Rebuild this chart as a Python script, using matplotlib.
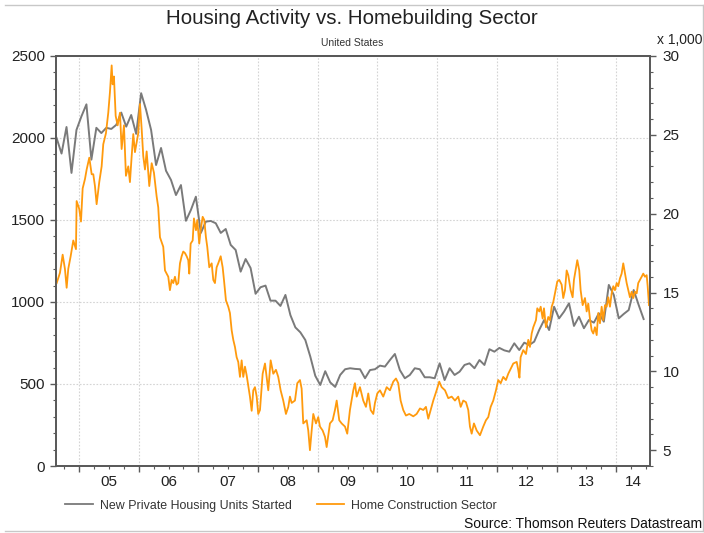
"""
Housing starts vs. home construction sector index
"""

import matplotlib
matplotlib.use("Agg")
import matplotlib.pyplot as plt
from matplotlib.lines import Line2D
from matplotlib.ticker import FixedLocator, MultipleLocator, NullFormatter
import numpy as np

plt.rcParams['font.family'] = ['Liberation Sans', 'DejaVu Sans']

# New private housing units started (thousands, monthly, Aug 2004 - Jun 2014)
starts_first_year = 2004
starts_first_month = 8
starts = [
    2000, 1905, 2067, 1787, 2049,                                          # 2004
    2132, 2205, 1868, 2062, 2030, 2062, 2055, 2080, 2155, 2069, 2140, 2025,  # 2005
    2273, 2171, 2049, 1835, 1939, 1800, 1744, 1652, 1713, 1495, 1561, 1642,  # 2006
    1421, 1490, 1494, 1480, 1421, 1445, 1348, 1317, 1185, 1262, 1207, 1050,  # 2007
    1090, 1100, 1008, 1008, 976, 1043, 920, 845, 815, 768, 667, 550,         # 2008
    494, 578, 510, 482, 555, 590, 596, 592, 590, 535, 585, 590,              # 2009
    612, 606, 646, 683, 585, 535, 555, 596, 590, 541, 541, 535,              # 2010
    626, 524, 596, 555, 575, 616, 626, 596, 646, 616, 712, 697,              # 2011
    720, 705, 697, 748, 707, 752, 738, 758, 829, 890, 829, 971,              # 2012
    900, 941, 992, 854, 910, 840, 890, 874, 931, 880, 1104, 1043,            # 2013
    900, 927, 951, 1073, 982, 896,                                           # 2014
]

# Home construction sector index (x 1,000), decimal year / level
sector_t = [
    2004.627, 2004.682, 2004.727, 2004.765, 2004.794, 2004.821, 2004.861, 2004.905,
    2004.950, 2004.961, 2005.005, 2005.034, 2005.062, 2005.101, 2005.129, 2005.173,
    2005.213, 2005.240, 2005.268, 2005.296, 2005.340, 2005.380, 2005.407, 2005.452,
    2005.491, 2005.519, 2005.548, 2005.564, 2005.586, 2005.615, 2005.648, 2005.687,
    2005.715, 2005.754, 2005.787, 2005.826, 2005.854, 2005.883, 2005.910, 2005.938,
    2005.966, 2005.993, 2006.022, 2006.050, 2006.077, 2006.106, 2006.134, 2006.178,
    2006.218, 2006.256, 2006.301, 2006.328, 2006.357, 2006.412, 2006.441, 2006.469,
    2006.496, 2006.524, 2006.553, 2006.580, 2006.608, 2006.636, 2006.663, 2006.692,
    2006.720, 2006.747, 2006.776, 2006.804, 2006.831, 2006.848, 2006.871, 2006.905,
    2006.926, 2006.960, 2006.982, 2007.015, 2007.038, 2007.072, 2007.099, 2007.127,
    2007.149, 2007.183, 2007.223, 2007.250, 2007.278, 2007.306, 2007.333, 2007.374,
    2007.407, 2007.429, 2007.462, 2007.501, 2007.529, 2007.558, 2007.585, 2007.613,
    2007.641, 2007.668, 2007.697, 2007.725, 2007.752, 2007.781, 2007.809, 2007.836,
    2007.864, 2007.893, 2007.920, 2007.948, 2007.977, 2008.003, 2008.032, 2008.077,
    2008.116, 2008.171, 2008.211, 2008.255, 2008.300, 2008.338, 2008.378, 2008.422,
    2008.467, 2008.506, 2008.534, 2008.563, 2008.618, 2008.657, 2008.702, 2008.730,
    2008.757, 2008.814, 2008.841, 2008.869, 2008.898, 2008.925, 2008.970, 2009.008,
    2009.037, 2009.082, 2009.121, 2009.149, 2009.204, 2009.249, 2009.288, 2009.317,
    2009.360, 2009.400, 2009.456, 2009.494, 2009.539, 2009.595, 2009.623, 2009.652,
    2009.707, 2009.762, 2009.807, 2009.846, 2009.886, 2009.930, 2009.958, 2009.997,
    2010.042, 2010.097, 2010.154, 2010.209, 2010.265, 2010.310, 2010.348, 2010.388,
    2010.432, 2010.477, 2010.533, 2010.600, 2010.656, 2010.712, 2010.767, 2010.812,
    2010.851, 2010.891, 2010.935, 2010.991, 2011.035, 2011.075, 2011.131, 2011.186,
    2011.243, 2011.298, 2011.353, 2011.394, 2011.437, 2011.482, 2011.521, 2011.549,
    2011.578, 2011.616, 2011.662, 2011.717, 2011.772, 2011.817, 2011.856, 2011.896,
    2011.940, 2011.985, 2012.023, 2012.064, 2012.107, 2012.152, 2012.191, 2012.236,
    2012.275, 2012.332, 2012.358, 2012.378, 2012.398, 2012.442, 2012.487, 2012.526,
    2012.554, 2012.583, 2012.610, 2012.655, 2012.677, 2012.710, 2012.734, 2012.767,
    2012.789, 2012.822, 2012.861, 2012.889, 2012.918, 2012.945, 2012.973, 2013.012,
    2013.045, 2013.085, 2013.112, 2013.141, 2013.169, 2013.196, 2013.236, 2013.269,
    2013.291, 2013.325, 2013.347, 2013.380, 2013.403, 2013.437, 2013.476, 2013.504,
    2013.531, 2013.559, 2013.588, 2013.615, 2013.643, 2013.672, 2013.698, 2013.727,
    2013.755, 2013.782, 2013.811, 2013.839, 2013.866, 2013.894, 2013.923, 2013.950,
    2013.978, 2014.007, 2014.033, 2014.062, 2014.090, 2014.117, 2014.146, 2014.174,
    2014.201, 2014.229, 2014.258, 2014.285, 2014.313, 2014.342, 2014.368, 2014.397,
    2014.425, 2014.452, 2014.481, 2014.509, 2014.526, 2014.548,
]
sector_v = [
    15.6, 16.25, 17.4, 16.5, 15.3, 16.5, 17.3, 18.3,
    17.75, 20.8, 20.3, 19.5, 21.6, 22.2, 22.8, 23.55,
    22.5, 22.5, 21.75, 20.6, 22.0, 23.0, 24.4, 25.1,
    26.4, 27.7, 29.4, 28.2, 28.7, 26.2, 25.6, 26.4,
    24.1, 25.6, 22.4, 23.0, 22.0, 23.65, 25.05, 23.9,
    24.5, 25.1, 26.95, 25.4, 23.65, 22.8, 23.95, 21.75,
    23.2, 22.6, 21.1, 20.4, 18.5, 17.9, 16.4, 16.2,
    16.0, 15.15, 15.8, 15.6, 16.0, 15.5, 15.6, 16.85,
    17.3, 17.6, 17.5, 17.3, 17.05, 16.2, 18.1, 18.3,
    19.7, 18.95, 19.6, 18.1, 18.95, 19.8, 19.6, 18.5,
    17.9, 16.6, 16.85, 15.8, 15.6, 16.6, 16.85, 17.3,
    16.6, 15.8, 14.5, 14.1, 13.7, 12.6, 12.0, 11.55,
    10.9, 10.6, 9.65, 10.7, 9.65, 10.3, 9.75, 9.1,
    8.4, 7.5, 8.8, 9.0, 8.4, 7.3, 7.55, 9.85,
    10.5, 8.8, 10.7, 9.85, 10.1, 9.65, 8.8, 8.15,
    7.3, 7.75, 8.4, 8.0, 8.15, 9.25, 9.45, 8.9,
    6.7, 6.9, 6.25, 5.0, 6.25, 7.3, 6.7, 7.1,
    6.5, 6.25, 5.85, 5.2, 6.7, 6.9, 7.55, 8.15,
    6.9, 6.7, 6.5, 6.05, 7.55, 8.8, 9.25, 8.4,
    9.0, 8.15, 7.75, 8.6, 7.55, 7.3, 8.0, 8.6,
    8.8, 8.4, 9.0, 8.8, 9.35, 9.55, 9.25, 8.15,
    7.55, 7.2, 7.3, 7.15, 7.3, 7.65, 7.55, 7.75,
    7.0, 7.55, 8.15, 8.8, 9.35, 9.0, 8.8, 8.3,
    8.4, 8.15, 8.4, 7.75, 8.15, 8.05, 7.55, 6.5,
    6.05, 6.7, 6.25, 5.95, 6.5, 6.9, 7.1, 7.75,
    8.15, 8.8, 9.45, 9.25, 9.65, 9.45, 9.85, 10.2,
    10.5, 10.6, 10.1, 9.6, 10.9, 11.35, 11.1, 12.0,
    11.55, 12.4, 12.8, 13.25, 14.0, 13.8, 14.1, 13.35,
    14.0, 12.8, 13.45, 13.25, 14.1, 14.4, 14.95, 15.7,
    15.8, 15.5, 14.65, 15.15, 16.4, 16.1, 15.15, 14.7,
    15.8, 16.55, 17.05, 16.4, 15.15, 14.2, 14.65, 13.8,
    14.3, 13.35, 12.6, 12.4, 12.8, 12.3, 13.7, 13.05,
    14.1, 13.25, 14.2, 14.1, 14.7, 14.1, 14.95, 15.4,
    15.15, 15.6, 15.4, 15.9, 16.2, 16.85, 16.2, 15.6,
    15.15, 14.7, 15.05, 14.65, 15.05, 14.95, 15.6, 15.8,
    16.0, 16.2, 16.0, 16.1, 15.4, 14.2,
]

year_labels = ['05', '06', '07', '08', '09', '10', '11', '12', '13', '14']
first_label_year = 2005
x_min, x_max = 2004.615, 2014.565

GRAY = '#7a7a7a'
ORANGE = '#ff9a0d'
SPINE = '#5a5a5a'
TXT = '#222222'

starts_t = starts_first_year + (starts_first_month - 1 + np.arange(len(starts)) + 0.5) / 12

fig = plt.figure(figsize=(7.04, 5.33), dpi=100)
ax = fig.add_axes([0.0795, 0.1257, 0.8438, 0.7693])
ax2 = ax.twinx()

ax.plot(starts_t, starts, color=GRAY, lw=1.4)
ax2.plot(sector_t, sector_v, color=ORANGE, lw=1.3)

ax.set_xlim(x_min, x_max)
ax.set_ylim(0, 2500)
ax2.set_ylim(4, 30)

ax.yaxis.set_major_locator(MultipleLocator(500))
ax.yaxis.set_minor_locator(MultipleLocator(100))
ax2.yaxis.set_major_locator(FixedLocator([5, 10, 15, 20, 25, 30]))
ax2.yaxis.set_minor_locator(MultipleLocator(1))

ax.xaxis.set_major_locator(MultipleLocator(1))
ax.xaxis.set_major_formatter(NullFormatter())
ax.xaxis.set_minor_locator(MultipleLocator(0.25))

# year labels centred in each (visible part of the) year
for i, lab in enumerate(year_labels):
    y0 = first_label_year + i
    xc = (max(y0, x_min) + min(y0 + 1, x_max)) / 2
    ax.text(xc, -0.022, lab, transform=ax.get_xaxis_transform(), ha='center', va='top',
            fontsize=11, color=TXT)

ax.grid(True, which='major', color='#d4d4d4', lw=0.8, ls=(0, (1.5, 1.5)))

for a in (ax, ax2):
    for s in a.spines.values():
        s.set_color(SPINE)
        s.set_linewidth(1.3)
ax.spines['top'].set_color('#444444')

ax.tick_params(axis='y', which='major', length=4, width=1, color=SPINE,
               labelsize=11, pad=4, labelcolor=TXT)
ax.tick_params(axis='y', which='minor', length=2, width=0.8, color=SPINE)
ax2.tick_params(axis='y', which='major', length=4, width=1, color=SPINE,
                labelsize=11, pad=5, labelcolor=TXT)
ax2.tick_params(axis='y', which='minor', length=2, width=0.8, color=SPINE)
ax.tick_params(axis='x', which='major', length=4, width=1, color=SPINE)
ax.tick_params(axis='x', which='minor', length=2, width=0.8, color=SPINE)

fig.text(0.5, 0.966, 'Housing Activity vs. Homebuilding Sector', ha='center', va='center',
         fontsize=14.8, color=TXT)
fig.text(0.5, 0.919, 'United States', ha='center', va='center', fontsize=7.5, color='#333333')
fig.text(0.998, 0.925, 'x 1,000', ha='right', va='center', fontsize=10, color=TXT)

h1 = Line2D([], [], color=GRAY, lw=1.3)
h2 = Line2D([], [], color=ORANGE, lw=1.3)
fig.legend([h1, h2], ['New Private Housing Units Started', 'Home Construction Sector'],
           loc='center left', bbox_to_anchor=(0.077, 0.051), ncol=2, frameon=False,
           fontsize=8.9, handlelength=2.2, columnspacing=2.0, handletextpad=0.6,
           labelcolor='#333333')

fig.text(0.997, 0.017, 'Source: Thomson Reuters Datastream', ha='right', va='center',
         fontsize=10, color='#111111')

# frame lines: top, bottom and right edges
frame_kw = dict(transform=fig.transFigure, color='#c8c8c8', lw=1)
fig.add_artist(Line2D([0.007, 0.998], [0.991, 0.991], **frame_kw))
fig.add_artist(Line2D([0.007, 0.998], [0.004, 0.004], **frame_kw))
fig.add_artist(Line2D([0.998, 0.998], [0.004, 0.991], **frame_kw))

fig.savefig('out.png', dpi=100)
